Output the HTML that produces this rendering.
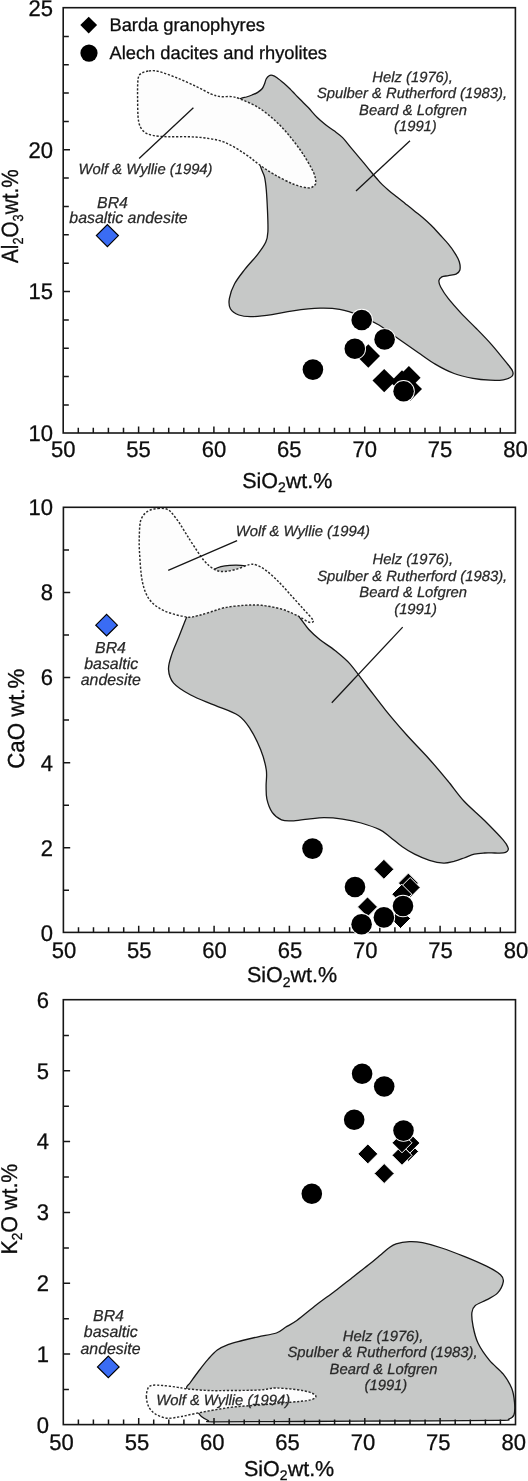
<!DOCTYPE html>
<html><head><meta charset="utf-8"><style>
html,body{margin:0;padding:0;background:#fff;}
svg{display:block;will-change:transform;text-rendering:geometricPrecision;}
</style></head><body>
<svg width="528" height="1481" viewBox="0 0 528 1481">
<rect width="528" height="1481" fill="#fff"/>
<path d="M240.7,98.5 C243.1,97.2 244.5,97.6 246.4,97.0 C248.3,96.4 250.1,95.8 252.0,95.0 C253.9,94.2 256.0,93.5 257.7,92.4 C259.4,91.3 261.2,89.9 262.3,88.5 C263.4,87.1 263.8,85.5 264.5,83.9 C265.2,82.3 265.5,80.2 266.3,78.8 C267.1,77.4 268.1,76.3 269.1,75.7 C270.1,75.1 271.2,75.1 272.5,75.4 C273.8,75.7 275.1,76.4 277.0,77.7 C278.9,79.0 281.6,81.3 283.9,83.3 C286.2,85.3 288.8,87.8 290.7,89.6 C292.6,91.4 293.4,92.5 295.0,94.1 C296.6,95.7 297.8,97.0 300.0,99.3 C302.2,101.6 305.7,104.8 308.5,107.8 C311.3,110.8 314.1,114.4 317.0,117.2 C319.9,120.0 322.8,122.5 325.6,124.8 C328.5,127.1 331.3,128.7 334.1,130.8 C336.9,132.9 339.8,134.8 342.6,137.6 C345.4,140.4 348.2,144.4 351.1,147.8 C354.0,151.2 356.9,154.7 359.7,158.1 C362.5,161.5 365.4,164.9 368.2,168.3 C371.0,171.7 374.3,175.8 376.7,178.5 C379.1,181.2 380.3,182.7 382.3,184.6 C384.3,186.5 386.1,188.1 388.5,190.2 C390.9,192.3 394.1,194.7 397.0,197.0 C399.9,199.3 402.8,201.6 405.6,203.9 C408.5,206.2 411.3,208.4 414.1,210.7 C416.9,213.0 419.8,215.1 422.6,217.5 C425.4,219.9 428.2,222.4 431.1,225.2 C434.0,228.0 436.9,231.4 439.7,234.5 C442.5,237.6 445.6,240.8 448.2,243.9 C450.8,247.0 453.1,250.3 455.0,253.3 C456.9,256.3 458.5,259.0 459.3,261.8 C460.1,264.6 460.4,268.2 459.8,270.3 C459.2,272.4 457.9,273.2 456.0,274.1 C454.1,275.0 450.8,275.1 448.4,275.6 C446.0,276.1 443.4,276.0 441.8,276.9 C440.2,277.8 439.1,279.0 438.9,280.7 C438.7,282.4 439.2,284.3 440.8,287.3 C442.4,290.3 444.9,294.3 448.4,298.7 C451.9,303.1 457.0,308.8 461.7,313.9 C466.4,318.9 471.8,323.8 476.8,329.0 C481.9,334.2 487.3,339.7 492.0,345.1 C496.7,350.5 501.8,356.9 505.2,361.2 C508.6,365.5 511.3,368.2 512.4,370.7 C513.5,373.2 513.4,374.9 511.9,376.4 C510.4,377.9 506.9,379.2 503.3,379.8 C499.7,380.4 495.2,380.4 490.1,380.2 C485.1,379.9 479.0,379.4 473.0,378.3 C467.0,377.2 460.4,375.9 454.1,373.5 C447.8,371.1 441.1,367.6 435.2,364.1 C429.2,360.6 424.5,356.9 418.4,352.7 C412.3,348.5 405.3,343.6 398.7,339.0 C392.1,334.4 385.6,328.9 379.0,325.0 C372.4,321.1 365.9,317.9 359.4,315.3 C352.8,312.7 346.3,310.6 339.7,309.4 C333.1,308.2 327.8,308.0 320.0,308.2 C312.2,308.4 300.9,309.7 292.9,310.8 C284.9,311.9 278.9,313.6 272.0,314.6 C265.1,315.6 256.8,316.6 251.3,316.7 C245.8,316.8 242.3,316.3 238.8,315.0 C235.3,313.7 232.0,311.6 230.4,308.8 C228.8,306.0 228.7,302.5 229.4,298.3 C230.1,294.1 232.0,288.7 234.6,283.8 C237.2,278.9 241.2,274.1 245.0,269.2 C248.8,264.3 254.0,259.1 257.5,254.6 C261.0,250.1 264.1,245.9 265.8,242.1 C267.5,238.3 267.6,236.9 267.9,231.7 C268.2,226.5 267.8,217.8 267.5,210.8 C267.2,203.9 266.8,195.7 266.3,190.0 C265.8,184.3 265.5,180.9 264.5,176.8 C263.5,172.8 261.9,171.8 260.3,165.7 C258.7,159.6 258.1,147.3 255.0,140.0 C251.9,132.7 245.8,127.8 242.0,122.0 C238.2,116.2 232.2,108.9 232.0,105.0 C231.8,101.1 238.3,99.8 240.7,98.5Z" fill="#c6c8c7" stroke="#161616" stroke-width="1.3"/>
<path d="M148.9,71.0 C151.7,70.7 153.7,70.2 158.4,71.4 C163.1,72.6 171.0,75.5 177.3,78.0 C183.6,80.5 190.6,83.8 196.3,86.5 C202.0,89.2 207.3,92.4 211.4,94.1 C215.5,95.8 217.6,96.2 220.9,96.6 C224.2,97.0 228.1,96.2 231.4,96.6 C234.7,97.0 236.4,97.4 240.8,99.2 C245.2,101.0 252.5,104.0 257.9,107.3 C263.3,110.5 268.6,114.9 273.0,118.7 C277.4,122.5 281.0,126.3 284.4,130.0 C287.8,133.7 290.4,137.0 293.6,141.1 C296.8,145.2 300.1,149.5 303.4,154.6 C306.7,159.7 311.2,167.4 313.3,171.9 C315.4,176.4 315.6,179.4 315.8,181.7 C316.0,183.9 315.7,184.4 314.5,185.4 C313.3,186.4 311.9,188.1 308.4,187.9 C304.9,187.7 299.4,186.5 293.6,184.2 C287.9,181.9 279.6,177.6 273.9,174.3 C268.1,171.0 264.0,168.0 259.1,164.5 C254.2,161.0 250.1,157.1 244.3,153.4 C238.6,149.7 231.2,144.9 224.6,142.3 C218.0,139.7 211.3,138.9 205.0,138.0 C198.7,137.1 193.0,136.9 186.8,136.7 C180.6,136.5 173.6,136.9 167.9,136.7 C162.2,136.5 156.8,136.3 152.7,135.4 C148.6,134.5 145.7,133.5 143.3,131.0 C140.9,128.5 139.4,126.1 138.5,120.6 C137.6,115.1 137.7,104.9 137.6,97.9 C137.5,91.0 137.5,83.0 138.1,78.9 C138.7,74.8 139.6,74.6 141.4,73.3 C143.2,72.0 146.1,71.3 148.9,71.0Z" fill="#fdfdfd" stroke="#2a2a2a" stroke-width="1.45" stroke-dasharray="2.2 1.7"/>
<path d="M245.6,565.9 C254.0,567.4 258.4,572.6 265.0,578.0 C271.6,583.4 279.2,591.4 285.0,598.0 C290.8,604.6 295.9,612.4 299.8,617.6 C303.7,622.8 305.2,625.5 308.6,629.2 C312.0,632.9 315.6,636.2 320.0,639.8 C324.4,643.3 330.1,646.5 335.0,650.5 C339.9,654.5 344.4,657.8 349.7,663.6 C354.9,669.4 360.5,677.8 366.5,685.5 C372.5,693.2 378.9,701.9 385.5,710.1 C392.1,718.3 399.1,726.4 406.3,734.5 C413.5,742.6 422.0,751.0 428.9,758.7 C435.8,766.4 441.6,773.4 447.5,780.5 C453.4,787.6 457.9,794.6 464.1,801.3 C470.3,808.0 478.0,814.0 484.5,820.5 C491.0,827.0 499.4,835.6 503.3,840.1 C507.2,844.6 507.5,845.9 508.1,847.8 C508.8,849.7 508.0,850.4 507.2,851.3 C506.4,852.1 505.4,852.6 503.3,852.9 C501.2,853.2 497.9,853.0 494.8,853.0 C491.7,853.0 487.9,852.8 484.5,853.0 C481.1,853.2 477.7,853.3 474.3,854.1 C470.9,854.9 467.5,856.8 464.1,858.0 C460.7,859.2 457.3,860.5 453.9,861.4 C450.5,862.2 447.7,863.3 443.6,863.1 C439.5,862.9 434.2,861.8 429.4,860.3 C424.6,858.8 419.1,856.5 414.6,854.2 C410.1,852.0 406.4,849.7 402.3,846.8 C398.2,843.9 393.8,839.8 390.0,836.9 C386.2,834.0 384.5,832.0 379.7,829.7 C374.9,827.4 367.3,824.8 361.1,823.0 C354.9,821.2 348.7,820.0 342.5,819.1 C336.3,818.2 329.8,817.7 324.0,817.7 C318.2,817.7 313.3,818.6 308.0,819.1 C302.7,819.6 296.5,820.8 292.1,820.9 C287.7,821.0 284.8,821.3 281.5,819.9 C278.2,818.5 274.6,815.8 272.2,812.4 C269.8,809.0 267.9,803.6 266.9,799.2 C265.9,794.8 266.2,790.9 266.1,786.0 C266.0,781.1 267.2,776.1 266.3,770.0 C265.4,763.9 263.3,756.4 260.6,749.6 C257.9,742.8 254.0,734.8 250.3,729.1 C246.6,723.4 244.4,719.5 238.4,715.5 C232.4,711.5 222.4,708.6 214.5,705.2 C206.6,701.8 197.5,698.7 190.7,695.0 C183.9,691.3 177.3,687.4 173.6,683.1 C169.9,678.8 168.8,674.2 168.5,669.4 C168.2,664.6 170.2,659.5 171.9,654.1 C173.6,648.7 176.3,643.2 178.8,637.0 C181.3,630.8 184.8,621.5 186.7,617.0 C188.6,612.5 186.9,614.5 190.0,610.0 C193.1,605.5 200.9,596.8 205.0,590.0 C209.1,583.2 208.0,573.0 214.8,569.0 C221.6,565.0 237.2,564.4 245.6,565.9Z" fill="#c6c8c7" stroke="#161616" stroke-width="1.3"/>
<path d="M157.7,508.5 C160.0,508.3 162.6,508.2 164.5,508.5 C166.4,508.8 167.8,509.5 169.1,510.4 C170.4,511.3 171.0,512.0 172.5,513.8 C174.0,515.6 176.1,518.2 178.2,521.2 C180.3,524.2 182.7,528.4 185.0,532.0 C187.3,535.6 188.7,538.1 191.8,542.8 C195.0,547.5 200.1,555.9 203.9,560.4 C207.7,564.9 211.4,567.8 214.8,569.6 C218.2,571.5 220.9,571.6 224.6,571.5 C228.3,571.4 232.8,570.2 236.9,569.1 C241.0,568.0 246.0,565.3 249.3,564.6 C252.6,563.9 253.8,564.1 256.7,565.1 C259.6,566.1 262.8,568.0 266.5,570.8 C270.2,573.6 274.7,577.8 278.8,581.9 C282.9,586.0 287.0,590.9 291.1,595.4 C295.2,599.9 299.9,605.1 303.4,609.0 C306.9,612.9 310.5,616.6 312.1,618.8 C313.7,621.0 313.4,621.5 312.8,622.0 C312.2,622.5 310.4,622.7 308.4,622.0 C306.4,621.3 303.5,619.0 301.0,617.6 C298.5,616.2 296.9,615.3 293.6,613.9 C290.3,612.5 286.6,610.4 281.3,609.0 C276.0,607.6 267.8,605.9 261.6,605.3 C255.4,604.7 250.5,604.9 244.3,605.3 C238.1,605.7 230.3,606.6 224.6,607.7 C218.9,608.9 214.3,610.9 209.9,612.2 C205.5,613.5 201.9,614.8 198.0,615.6 C194.1,616.4 192.3,617.8 186.7,617.0 C181.1,616.2 170.7,613.8 164.5,610.9 C158.3,608.0 153.4,604.7 149.7,599.8 C146.0,594.9 144.0,589.4 142.3,581.4 C140.6,573.4 140.0,559.3 139.5,551.9 C139.0,544.5 139.2,541.5 139.3,537.1 C139.4,532.7 139.5,528.7 139.8,525.7 C140.1,522.7 140.4,521.0 141.3,518.9 C142.2,516.8 143.6,514.7 145.2,513.2 C146.8,511.7 148.8,510.6 150.9,509.8 C153.0,509.0 155.4,508.7 157.7,508.5Z" fill="#fdfdfd" stroke="#2a2a2a" stroke-width="1.45" stroke-dasharray="2.2 1.7"/>
<path d="M186.6,1388.2 C186.3,1385.7 187.9,1386.0 190.0,1383.0 C192.1,1380.0 196.1,1374.5 199.1,1370.5 C202.1,1366.5 205.2,1362.5 208.2,1359.1 C211.2,1355.7 213.9,1352.5 217.3,1350.0 C220.7,1347.5 224.4,1345.9 228.6,1344.3 C232.8,1342.7 237.4,1341.8 242.3,1340.5 C247.2,1339.2 252.5,1338.0 258.2,1336.8 C263.9,1335.5 271.8,1334.6 276.4,1333.0 C280.9,1331.4 282.1,1329.4 285.5,1327.3 C288.9,1325.2 291.6,1324.2 296.8,1320.5 C302.0,1316.8 310.1,1309.7 316.5,1304.8 C322.9,1299.9 328.9,1295.7 335.1,1291.0 C341.3,1286.3 347.9,1280.9 353.7,1276.4 C359.4,1271.9 365.2,1267.5 369.6,1264.0 C374.0,1260.5 377.1,1257.8 380.2,1255.2 C383.3,1252.6 385.5,1250.5 388.1,1248.6 C390.8,1246.7 392.6,1244.9 396.1,1243.8 C399.7,1242.7 405.0,1241.9 409.4,1241.7 C413.8,1241.5 417.2,1241.7 422.6,1242.7 C428.0,1243.8 434.8,1245.7 441.7,1248.0 C448.6,1250.3 456.6,1253.4 464.1,1256.4 C471.6,1259.4 480.4,1263.2 486.5,1266.2 C492.6,1269.2 497.7,1272.1 500.5,1274.7 C503.3,1277.3 503.8,1278.7 503.3,1281.7 C502.8,1284.7 500.5,1289.9 497.7,1292.9 C494.9,1295.9 490.2,1297.8 486.5,1299.9 C482.8,1302.0 477.7,1303.4 475.3,1305.5 C472.9,1307.6 472.3,1309.0 471.9,1312.5 C471.5,1316.0 472.1,1321.4 473.1,1326.5 C474.1,1331.6 475.4,1337.7 478.1,1343.3 C480.8,1348.9 485.1,1355.0 489.3,1360.2 C493.5,1365.4 499.6,1369.5 503.3,1374.2 C507.0,1378.9 509.8,1383.5 511.7,1388.2 C513.6,1392.9 514.1,1397.8 514.5,1402.2 C514.9,1406.6 514.9,1412.0 514.0,1414.8 C513.1,1417.6 511.6,1418.1 508.9,1419.0 C506.2,1419.9 515.9,1420.1 497.7,1420.4 C479.6,1420.7 432.9,1420.8 400.0,1421.0 C367.1,1421.2 330.8,1421.4 300.0,1421.5 C269.2,1421.6 230.3,1422.0 215.0,1421.8 C199.7,1421.6 210.5,1421.4 208.2,1420.5 C205.9,1419.6 203.1,1418.0 201.4,1416.6 C199.7,1415.2 199.6,1415.1 198.0,1412.0 C196.4,1408.9 193.9,1402.0 192.0,1398.0 C190.1,1394.0 186.9,1390.7 186.6,1388.2Z" fill="#c6c8c7" stroke="#161616" stroke-width="1.3"/>
<path d="M146.4,1397.3 C146.2,1394.1 147.0,1390.2 148.0,1388.2 C149.0,1386.2 150.1,1385.8 152.5,1385.3 C154.9,1384.8 158.7,1385.2 162.7,1385.5 C166.7,1385.8 172.2,1386.5 176.4,1387.1 C180.6,1387.7 182.4,1388.3 187.7,1388.9 C193.0,1389.5 201.0,1390.2 208.2,1390.5 C215.4,1390.8 222.3,1390.6 230.9,1390.5 C239.5,1390.4 252.4,1390.4 260.0,1390.0 C267.6,1389.6 269.1,1387.9 276.4,1388.0 C283.7,1388.1 297.2,1389.5 303.7,1390.7 C310.2,1392.0 314.5,1394.0 315.6,1395.5 C316.7,1397.0 314.8,1398.8 310.5,1399.9 C306.2,1401.0 298.5,1401.5 290.0,1402.3 C281.5,1403.1 268.4,1404.2 259.3,1405.0 C250.2,1405.8 242.9,1406.0 235.5,1406.8 C228.1,1407.6 221.4,1408.7 215.0,1409.8 C208.6,1410.9 202.5,1412.1 196.8,1413.2 C191.1,1414.3 185.8,1415.8 180.9,1416.6 C176.0,1417.4 171.5,1418.6 167.3,1418.2 C163.1,1417.8 158.9,1416.1 155.9,1414.3 C152.9,1412.5 150.7,1410.3 149.1,1407.5 C147.5,1404.7 146.6,1400.5 146.4,1397.3Z" fill="#fdfdfd" stroke="#2a2a2a" stroke-width="1.45" stroke-dasharray="2.2 1.7"/>
<line x1="193.4" y1="107.7" x2="139.1" y2="158.4" stroke="#161616" stroke-width="1.3"/>
<line x1="410.0" y1="140.7" x2="356.0" y2="191.0" stroke="#161616" stroke-width="1.3"/>
<line x1="237.1" y1="540.7" x2="168.2" y2="570.3" stroke="#161616" stroke-width="1.3"/>
<line x1="402.7" y1="627.1" x2="331.8" y2="702.7" stroke="#161616" stroke-width="1.3"/>
<rect x="63.2" y="7.7" width="452.2" height="425.3" fill="none" stroke="#161616" stroke-width="1.6"/>
<path d="M78.3,433.0v-5.2M93.3,433.0v-5.2M108.4,433.0v-5.2M123.5,433.0v-5.2M138.6,433.0v-6.6M153.6,433.0v-5.2M168.7,433.0v-5.2M183.8,433.0v-5.2M198.9,433.0v-5.2M213.9,433.0v-6.6M229.0,433.0v-5.2M244.1,433.0v-5.2M259.2,433.0v-5.2M274.2,433.0v-5.2M289.3,433.0v-6.6M304.4,433.0v-5.2M319.4,433.0v-5.2M334.5,433.0v-5.2M349.6,433.0v-5.2M364.7,433.0v-6.6M379.7,433.0v-5.2M394.8,433.0v-5.2M409.9,433.0v-5.2M425.0,433.0v-5.2M440.0,433.0v-6.6M455.1,433.0v-5.2M470.2,433.0v-5.2M485.3,433.0v-5.2M500.3,433.0v-5.2M63.2,404.9h5.6M63.2,376.6h5.6M63.2,348.2h5.6M63.2,319.9h5.6M63.2,291.5h6.8M63.2,263.2h5.6M63.2,234.8h5.6M63.2,206.5h5.6M63.2,178.1h5.6M63.2,149.8h6.8M63.2,121.4h5.6M63.2,93.1h5.6M63.2,64.7h5.6M63.2,36.4h5.6" stroke="#161616" stroke-width="1.5" fill="none"/>
<rect x="63.4" y="507.3" width="452.0" height="425.1" fill="none" stroke="#161616" stroke-width="1.6"/>
<path d="M78.5,932.4v-5.2M93.5,932.4v-5.2M108.6,932.4v-5.2M123.7,932.4v-5.2M138.7,932.4v-6.6M153.8,932.4v-5.2M168.9,932.4v-5.2M183.9,932.4v-5.2M199.0,932.4v-5.2M214.1,932.4v-6.6M229.1,932.4v-5.2M244.2,932.4v-5.2M259.3,932.4v-5.2M274.3,932.4v-5.2M289.4,932.4v-6.6M304.5,932.4v-5.2M319.5,932.4v-5.2M334.6,932.4v-5.2M349.7,932.4v-5.2M364.7,932.4v-6.6M379.8,932.4v-5.2M394.9,932.4v-5.2M409.9,932.4v-5.2M425.0,932.4v-5.2M440.1,932.4v-6.6M455.1,932.4v-5.2M470.2,932.4v-5.2M485.3,932.4v-5.2M500.3,932.4v-5.2M63.4,890.2h5.6M63.4,847.7h6.8M63.4,805.2h5.6M63.4,762.7h6.8M63.4,720.1h5.6M63.4,677.6h6.8M63.4,635.1h5.6M63.4,592.6h6.8M63.4,550.1h5.6" stroke="#161616" stroke-width="1.5" fill="none"/>
<rect x="63.3" y="999.7" width="452.2" height="424.9" fill="none" stroke="#161616" stroke-width="1.6"/>
<path d="M78.4,1424.6v-5.2M93.4,1424.6v-5.2M108.5,1424.6v-5.2M123.6,1424.6v-5.2M138.7,1424.6v-6.6M153.7,1424.6v-5.2M168.8,1424.6v-5.2M183.9,1424.6v-5.2M199.0,1424.6v-5.2M214.0,1424.6v-6.6M229.1,1424.6v-5.2M244.2,1424.6v-5.2M259.3,1424.6v-5.2M274.3,1424.6v-5.2M289.4,1424.6v-6.6M304.5,1424.6v-5.2M319.5,1424.6v-5.2M334.6,1424.6v-5.2M349.7,1424.6v-5.2M364.8,1424.6v-6.6M379.8,1424.6v-5.2M394.9,1424.6v-5.2M410.0,1424.6v-5.2M425.1,1424.6v-5.2M440.1,1424.6v-6.6M455.2,1424.6v-5.2M470.3,1424.6v-5.2M485.4,1424.6v-5.2M500.4,1424.6v-5.2M63.3,1389.5h5.6M63.3,1354.1h6.8M63.3,1318.7h5.6M63.3,1283.3h6.8M63.3,1247.9h5.6M63.3,1212.5h6.8M63.3,1177.0h5.6M63.3,1141.6h6.8M63.3,1106.2h5.6M63.3,1070.8h6.8M63.3,1035.4h5.6" stroke="#161616" stroke-width="1.5" fill="none"/>
<g font-family="Liberation Sans, sans-serif" fill="#0d0d0d" stroke="#0d0d0d" stroke-width="0.3">
<text transform="translate(53.0,15.8) scale(0.97,1)" font-size="22.7" text-anchor="end">25</text>
<text transform="translate(53.0,157.6) scale(0.97,1)" font-size="22.7" text-anchor="end">20</text>
<text transform="translate(53.0,299.3) scale(0.97,1)" font-size="22.7" text-anchor="end">15</text>
<text transform="translate(53.0,441.1) scale(0.97,1)" font-size="22.7" text-anchor="end">10</text>
<text transform="translate(63.2,457.4) scale(0.97,1)" font-size="22.7" text-anchor="middle">50</text>
<text transform="translate(138.6,457.4) scale(0.97,1)" font-size="22.7" text-anchor="middle">55</text>
<text transform="translate(213.9,457.4) scale(0.97,1)" font-size="22.7" text-anchor="middle">60</text>
<text transform="translate(289.3,457.4) scale(0.97,1)" font-size="22.7" text-anchor="middle">65</text>
<text transform="translate(364.7,457.4) scale(0.97,1)" font-size="22.7" text-anchor="middle">70</text>
<text transform="translate(440.0,457.4) scale(0.97,1)" font-size="22.7" text-anchor="middle">75</text>
<text transform="translate(515.4,457.4) scale(0.97,1)" font-size="22.7" text-anchor="middle">80</text>
<text transform="translate(53.0,515.4) scale(0.97,1)" font-size="22.7" text-anchor="end">10</text>
<text transform="translate(53.0,600.4) scale(0.97,1)" font-size="22.7" text-anchor="end">8</text>
<text transform="translate(53.0,685.4) scale(0.97,1)" font-size="22.7" text-anchor="end">6</text>
<text transform="translate(53.0,770.5) scale(0.97,1)" font-size="22.7" text-anchor="end">4</text>
<text transform="translate(53.0,855.5) scale(0.97,1)" font-size="22.7" text-anchor="end">2</text>
<text transform="translate(53.0,940.5) scale(0.97,1)" font-size="22.7" text-anchor="end">0</text>
<text transform="translate(63.9,958.0) scale(0.97,1)" font-size="22.7" text-anchor="middle">50</text>
<text transform="translate(139.2,958.0) scale(0.97,1)" font-size="22.7" text-anchor="middle">55</text>
<text transform="translate(214.6,958.0) scale(0.97,1)" font-size="22.7" text-anchor="middle">60</text>
<text transform="translate(289.9,958.0) scale(0.97,1)" font-size="22.7" text-anchor="middle">65</text>
<text transform="translate(365.2,958.0) scale(0.97,1)" font-size="22.7" text-anchor="middle">70</text>
<text transform="translate(440.6,958.0) scale(0.97,1)" font-size="22.7" text-anchor="middle">75</text>
<text transform="translate(515.9,958.0) scale(0.97,1)" font-size="22.7" text-anchor="middle">80</text>
<text transform="translate(49.1,1007.8) scale(0.97,1)" font-size="22.7" text-anchor="end">6</text>
<text transform="translate(49.1,1078.6) scale(0.97,1)" font-size="22.7" text-anchor="end">5</text>
<text transform="translate(49.1,1149.4) scale(0.97,1)" font-size="22.7" text-anchor="end">4</text>
<text transform="translate(49.1,1220.2) scale(0.97,1)" font-size="22.7" text-anchor="end">3</text>
<text transform="translate(49.1,1291.1) scale(0.97,1)" font-size="22.7" text-anchor="end">2</text>
<text transform="translate(49.1,1361.9) scale(0.97,1)" font-size="22.7" text-anchor="end">1</text>
<text transform="translate(49.1,1432.7) scale(0.97,1)" font-size="22.7" text-anchor="end">0</text>
<text transform="translate(61.5,1449.9) scale(0.97,1)" font-size="22.7" text-anchor="middle">50</text>
<text transform="translate(136.9,1449.9) scale(0.97,1)" font-size="22.7" text-anchor="middle">55</text>
<text transform="translate(212.2,1449.9) scale(0.97,1)" font-size="22.7" text-anchor="middle">60</text>
<text transform="translate(287.6,1449.9) scale(0.97,1)" font-size="22.7" text-anchor="middle">65</text>
<text transform="translate(363.0,1449.9) scale(0.97,1)" font-size="22.7" text-anchor="middle">70</text>
<text transform="translate(438.3,1449.9) scale(0.97,1)" font-size="22.7" text-anchor="middle">75</text>
<text transform="translate(513.7,1449.9) scale(0.97,1)" font-size="22.7" text-anchor="middle">80</text>
</g>
<g font-family="Liberation Sans, sans-serif" fill="#0d0d0d" stroke="#0d0d0d" stroke-width="0.3" font-size="21.5">
<text x="242.2" y="487.6">SiO<tspan font-size="14" dy="4.2">2</tspan><tspan dy="-4.2">wt.%</tspan></text>
<text x="246.9" y="982.4">SiO<tspan font-size="14" dy="4.2">2</tspan><tspan dy="-4.2">wt.%</tspan></text>
<text x="244.0" y="1476">SiO<tspan font-size="14" dy="4.2">2</tspan><tspan dy="-4.2">wt.%</tspan></text>
<text font-size="23.5" transform="translate(18.2,263) rotate(-90) scale(0.88,1)">Al<tspan font-size="14.5" dy="4.5">2</tspan><tspan dy="-4.5">O</tspan><tspan font-size="14.5" dy="4.5">3</tspan><tspan dy="-4.5">wt.%</tspan></text>
<text font-size="23.2" transform="translate(24.4,768.8) rotate(-90) scale(0.96,1)">CaO wt.%</text>
<text font-size="22.7" transform="translate(17.4,1254.6) rotate(-90) scale(0.945,1)">K<tspan font-size="14.5" dy="4.5">2</tspan><tspan dy="-4.5">O wt.%</tspan></text>
</g>
<path d="M88.7,16.7 L97.1,25.1 L88.7,33.5 L80.3,25.1Z" fill="#000"/>
<circle cx="89" cy="53.1" r="8.6" fill="#000"/>
<g font-family="Liberation Sans, sans-serif" fill="#0d0d0d" stroke="#0d0d0d" stroke-width="0.3" font-size="18.3">
<text x="109.5" y="31.0">Barda granophyres</text>
<text x="109.5" y="58.6">Alech dacites and rhyolites</text>
</g>
<g font-family="Liberation Sans, sans-serif" font-style="italic" fill="#282828" stroke="#282828" stroke-width="0.25" font-size="14.8">
<text text-anchor="middle"><tspan x="412.6" y="81.6">Helz (1976),</tspan><tspan x="412.0" y="98.0">Spulber &amp; Rutherford (1983),</tspan><tspan x="413.0" y="114.5">Beard &amp; Lofgren</tspan><tspan x="415.4" y="130.9">(1991)</tspan></text>
<text text-anchor="middle"><tspan x="412.8" y="564.4">Helz (1976),</tspan><tspan x="412.2" y="580.9">Spulber &amp; Rutherford (1983),</tspan><tspan x="413.2" y="597.3">Beard &amp; Lofgren</tspan><tspan x="415.6" y="613.8">(1991)</tspan></text>
<text text-anchor="middle"><tspan x="383.1" y="1340.8">Helz (1976),</tspan><tspan x="382.5" y="1357.2">Spulber &amp; Rutherford (1983),</tspan><tspan x="383.5" y="1373.7">Beard &amp; Lofgren</tspan><tspan x="385.9" y="1390.1">(1991)</tspan></text>
<text x="78.5" y="174.2">Wolf &amp; Wyllie (1994)</text>
<text x="235.8" y="535.7">Wolf &amp; Wyllie (1994)</text>
<text x="156.2" y="1404.9">Wolf &amp; Wyllie (1994)</text>
</g>
<g font-family="Liberation Sans, sans-serif" font-style="italic" fill="#282828" stroke="#282828" stroke-width="0.25" font-size="15.9" text-anchor="middle">
<text x="112.5" y="207.6">BR4</text><text x="128.5" y="223.3">basaltic andesite</text>
<text x="110.5" y="652.8">BR4</text><text x="111.2" y="668.5">basaltic</text><text x="110.8" y="685.2">andesite</text>
<text x="108.5" y="1321.4">BR4</text><text x="110.8" y="1336.8">basaltic</text><text x="110.5" y="1353.6">andesite</text>
</g>
<path d="M368.3,344.3 l11.7,11.7 l-11.7,11.7 l-11.7,-11.7Z" fill="#000"/>
<path d="M384.2,368.9 l11.7,11.7 l-11.7,11.7 l-11.7,-11.7Z" fill="#000"/>
<path d="M402.0,370.2 l11.7,11.7 l-11.7,11.7 l-11.7,-11.7Z" fill="#000"/>
<path d="M408.9,366.0 l11.7,11.7 l-11.7,11.7 l-11.7,-11.7Z" fill="#000"/>
<path d="M410.3,377.4 l11.7,11.7 l-11.7,11.7 l-11.7,-11.7Z" fill="#000"/>
<circle cx="312.9" cy="369.6" r="11.2" fill="#fff"/><circle cx="312.9" cy="369.6" r="10.3" fill="#000"/>
<circle cx="361.7" cy="320.0" r="11.2" fill="#fff"/><circle cx="361.7" cy="320.0" r="10.3" fill="#000"/>
<circle cx="354.8" cy="348.7" r="11.2" fill="#fff"/><circle cx="354.8" cy="348.7" r="10.3" fill="#000"/>
<circle cx="384.6" cy="339.4" r="11.2" fill="#fff"/><circle cx="384.6" cy="339.4" r="10.3" fill="#000"/>
<circle cx="403.6" cy="391.3" r="11.2" fill="#fff"/><circle cx="403.6" cy="391.3" r="10.3" fill="#000"/>
<path d="M383.9,859.3 l10.0,10.0 l-10.0,10.0 l-10.0,-10.0Z" fill="#000" stroke="#fff" stroke-width="1"/>
<path d="M367.5,896.9 l10.0,10.0 l-10.0,10.0 l-10.0,-10.0Z" fill="#000" stroke="#fff" stroke-width="1"/>
<path d="M400.5,908.5 l10.0,10.0 l-10.0,10.0 l-10.0,-10.0Z" fill="#000" stroke="#fff" stroke-width="1"/>
<path d="M408.4,873.1 l10.0,10.0 l-10.0,10.0 l-10.0,-10.0Z" fill="#000" stroke="#fff" stroke-width="1"/>
<path d="M410.2,877.5 l10.0,10.0 l-10.0,10.0 l-10.0,-10.0Z" fill="#000" stroke="#fff" stroke-width="1"/>
<path d="M401.8,884.2 l10.0,10.0 l-10.0,10.0 l-10.0,-10.0Z" fill="#000" stroke="#fff" stroke-width="1"/>
<circle cx="312.5" cy="848.6" r="11.2" fill="#fff"/><circle cx="312.5" cy="848.6" r="10.3" fill="#000"/>
<circle cx="355.0" cy="887.0" r="11.2" fill="#fff"/><circle cx="355.0" cy="887.0" r="10.3" fill="#000"/>
<circle cx="361.6" cy="924.2" r="11.2" fill="#fff"/><circle cx="361.6" cy="924.2" r="10.3" fill="#000"/>
<circle cx="383.9" cy="917.4" r="11.2" fill="#fff"/><circle cx="383.9" cy="917.4" r="10.3" fill="#000"/>
<circle cx="403.0" cy="906.0" r="11.2" fill="#fff"/><circle cx="403.0" cy="906.0" r="10.3" fill="#000"/>
<path d="M367.8,1143.9 l10.0,10.0 l-10.0,10.0 l-10.0,-10.0Z" fill="#000" stroke="#fff" stroke-width="1"/>
<path d="M384.2,1163.5 l10.0,10.0 l-10.0,10.0 l-10.0,-10.0Z" fill="#000" stroke="#fff" stroke-width="1"/>
<path d="M408.5,1141.4 l10.0,10.0 l-10.0,10.0 l-10.0,-10.0Z" fill="#000" stroke="#fff" stroke-width="1"/>
<path d="M409.9,1133.0 l10.0,10.0 l-10.0,10.0 l-10.0,-10.0Z" fill="#000" stroke="#fff" stroke-width="1"/>
<path d="M402.0,1145.3 l10.0,10.0 l-10.0,10.0 l-10.0,-10.0Z" fill="#000" stroke="#fff" stroke-width="1"/>
<path d="M402.0,1132.8 l10.0,10.0 l-10.0,10.0 l-10.0,-10.0Z" fill="#000" stroke="#fff" stroke-width="1"/>
<circle cx="362.1" cy="1073.8" r="11.2" fill="#fff"/><circle cx="362.1" cy="1073.8" r="10.3" fill="#000"/>
<circle cx="384.2" cy="1086.5" r="11.2" fill="#fff"/><circle cx="384.2" cy="1086.5" r="10.3" fill="#000"/>
<circle cx="354.2" cy="1119.7" r="11.2" fill="#fff"/><circle cx="354.2" cy="1119.7" r="10.3" fill="#000"/>
<circle cx="403.5" cy="1130.6" r="11.2" fill="#fff"/><circle cx="403.5" cy="1130.6" r="10.3" fill="#000"/>
<circle cx="311.8" cy="1193.7" r="11.2" fill="#fff"/><circle cx="311.8" cy="1193.7" r="10.3" fill="#000"/>
<path d="M107.4,224.6 l11.0,11.0 l-11.0,11.0 l-11.0,-11.0Z" fill="#3a6cf4" stroke="#000" stroke-width="1.2"/>
<path d="M106.6,614.4 l10.8,10.8 l-10.8,10.8 l-10.8,-10.8Z" fill="#3a6cf4" stroke="#000" stroke-width="1.2"/>
<path d="M108.3,1356.1 l10.8,10.8 l-10.8,10.8 l-10.8,-10.8Z" fill="#3a6cf4" stroke="#000" stroke-width="1.2"/>
</svg>
</body></html>
